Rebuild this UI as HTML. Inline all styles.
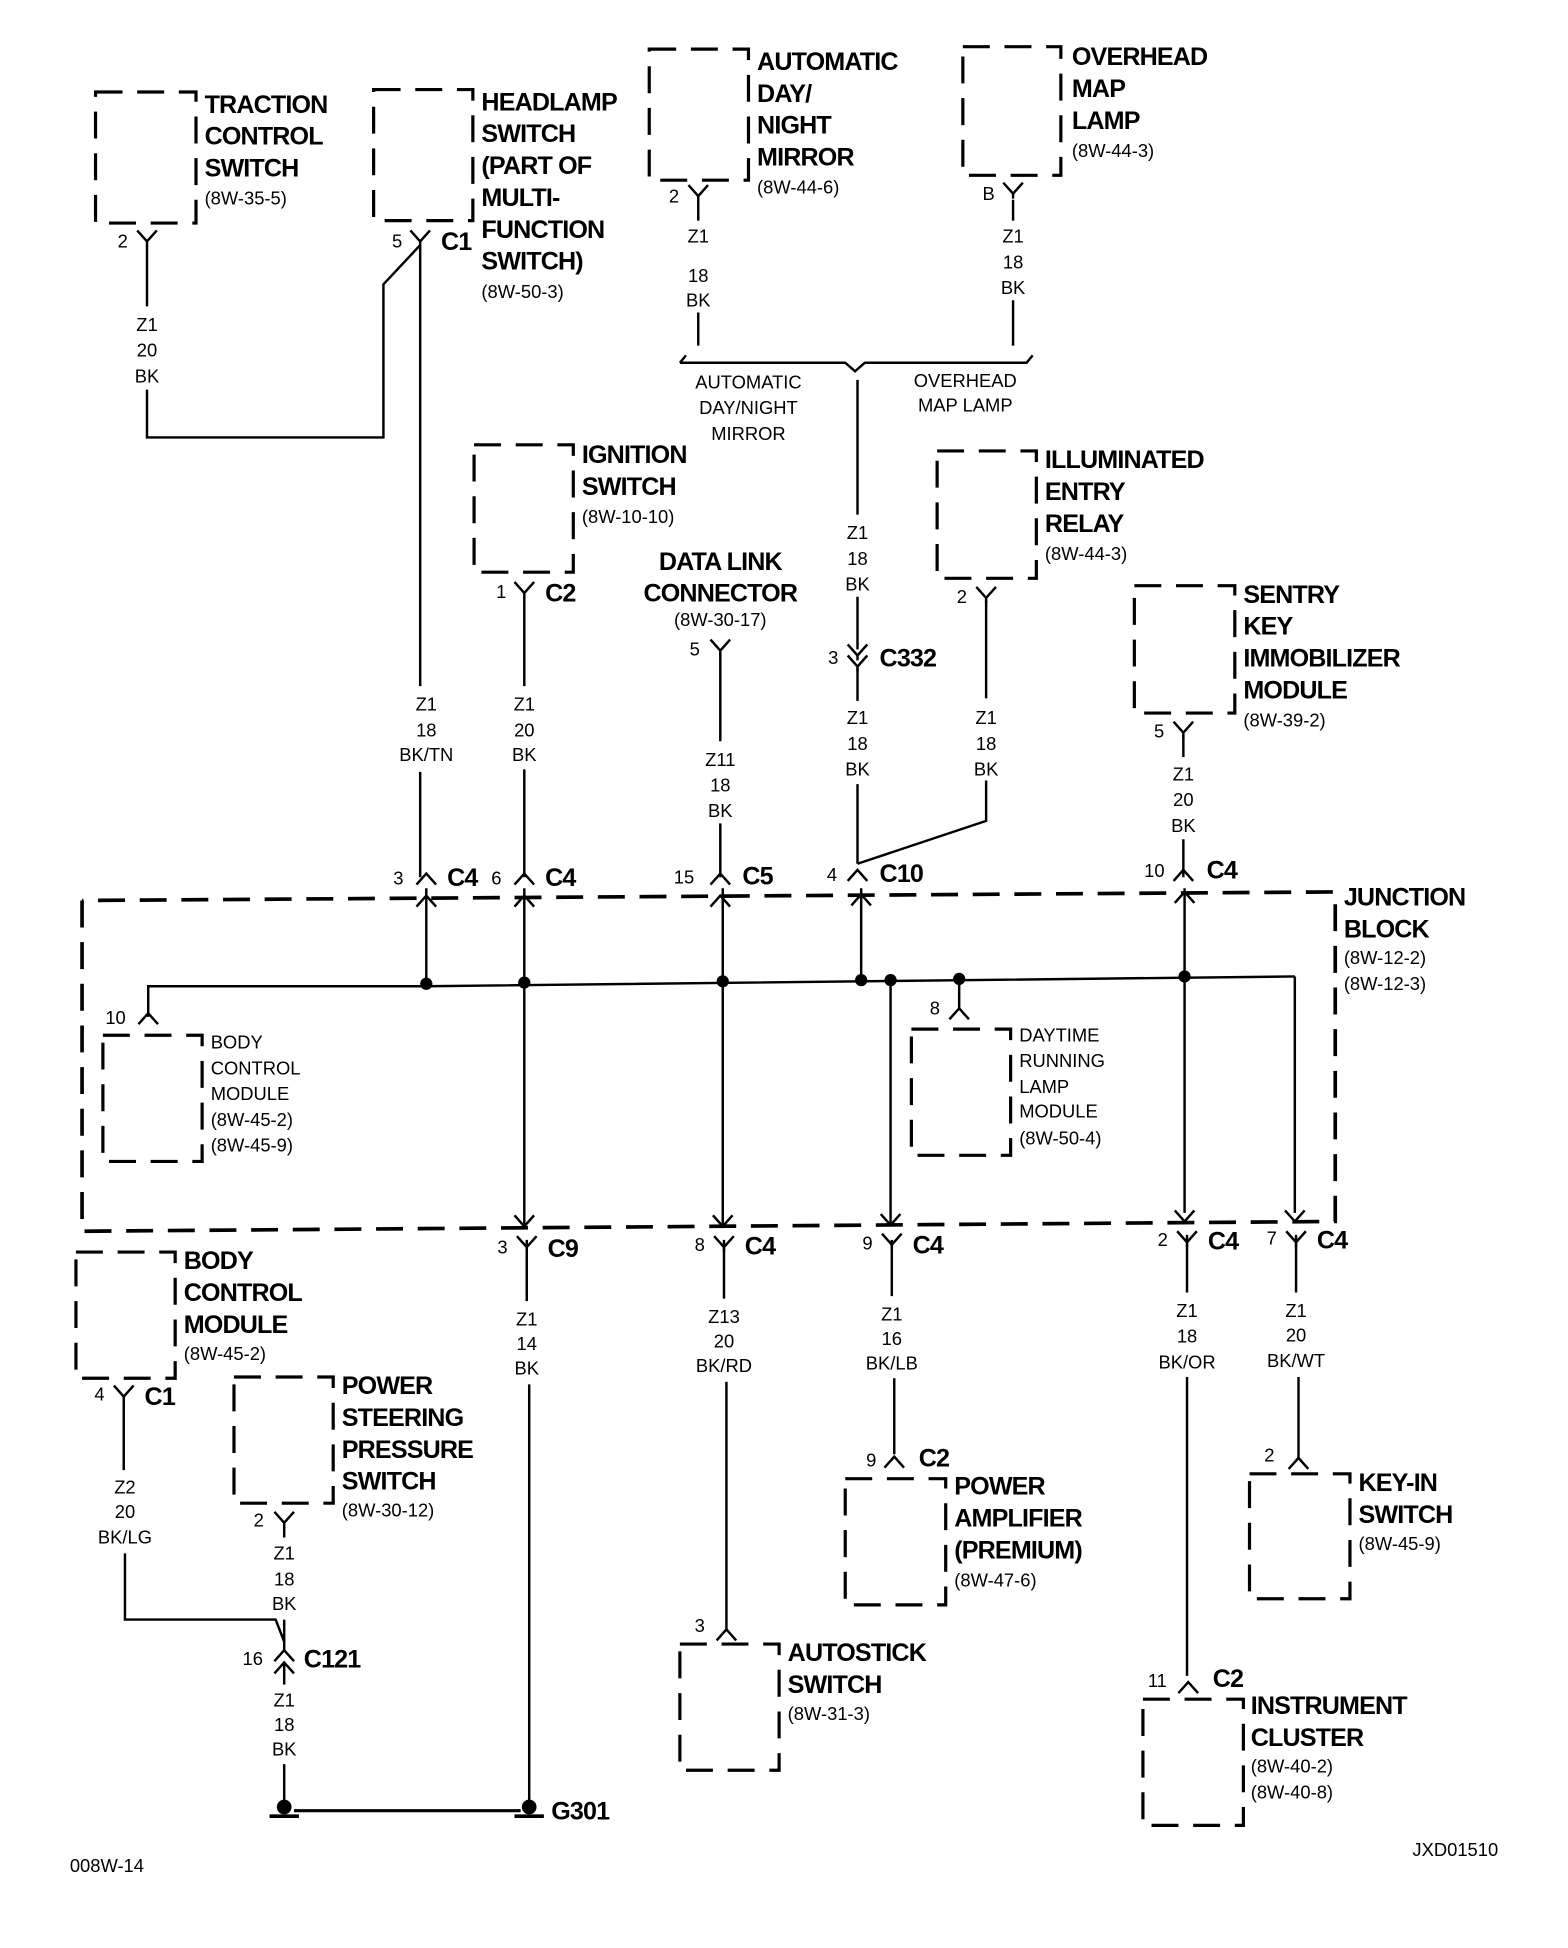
<!DOCTYPE html>
<html><head><meta charset="utf-8"><style>
html,body{margin:0;padding:0;background:#fff}
svg{display:block}
.b{font-family:"Liberation Sans Narrow","Liberation Sans",sans-serif;font-weight:bold;font-size:20.5px;letter-spacing:-0.7px;fill:#000}
.s{font-family:"Liberation Sans Narrow","Liberation Sans",sans-serif;font-size:15px;fill:#000}
.m{text-anchor:middle}
</style></head><body>
<svg width="1568" height="1948" viewBox="0 0 1280 1590" xmlns="http://www.w3.org/2000/svg">
<defs>
<g id="Y"><path d="M-8,-9 L0,0 L8,-9 M0,0 V4" fill="none" stroke="#000" stroke-width="2"/></g>
<g id="C"><path d="M-8,6 L0,-3 L8,6" fill="none" stroke="#000" stroke-width="2"/></g>
</defs>
<g fill="none" stroke="#000" stroke-width="2.6" stroke-dasharray="22,12">
<rect x="78" y="75" width="82" height="107"/>
<rect x="305" y="73" width="81" height="107"/>
<rect x="530" y="40" width="81" height="107"/>
<rect x="786" y="38" width="80" height="105"/>
<rect x="387" y="363" width="81" height="104"/>
<rect x="765" y="368" width="81" height="104"/>
<rect x="926" y="478" width="82" height="104"/>
<path d="M67,735 L67,1005 L1090,997 L1090,728 L67,735" stroke-width="3"/>
<rect x="84" y="845" width="81" height="103"/>
<rect x="744" y="840" width="81" height="103"/>
<rect x="62" y="1022" width="81" height="103"/>
<rect x="191" y="1124" width="81" height="103"/>
<rect x="555" y="1342" width="81" height="103"/>
<rect x="690" y="1207" width="82" height="103"/>
<rect x="933" y="1387" width="82" height="103"/>
<rect x="1020" y="1203" width="82" height="102"/>
</g>
<g fill="none" stroke="#000" stroke-width="2">
<path d="M120,200 V250 M120,318 V357 H313 V232 L343,200"/>
<path d="M343,200 V560 M343,630 V716"/>
<path d="M570,163 V180 M570,255 V282 M827,163 V180 M827,245 V282"/>
<path d="M555,296 L560,290 M555,296 H690 L698,303 L706,296 H838 L843,290" />
<path d="M700,310 V420 M700,487 V530 M700,545 V572 M700,640 V705"/>
<path d="M805,490 V570 M805,637 V670 L700,705"/>
<path d="M428,487 V560 M428,628 V716"/>
<path d="M588,533 V605 M588,672 V716"/>
<path d="M966,600 V618 M966,685 V716"/>
<path d="M348,725 V803 M428,725 V1000 M590,725 V1000 M703,725 V803 M727,803 V1000 M967,725 V990 M1057,797 V990"/>
<path d="M121,830 V805 H348 L1057,797"/>
<path d="M783,823 V801"/>
<path d="M430,1012 V1062 M432,1130 V1475 M591,1012 V1060 M593,1128 V1330 M728,1012 V1058 M730,1125 V1187 M969,1008 V1055 M969,1124 V1368 M1058,1008 V1055 M1060,1124 V1190"/>
<path d="M101,1140 V1200 M102,1268 V1322 H225 L232,1340"/>
<path d="M232,1245 V1255 M232,1322 V1347 M232,1358 V1375 M232,1440 V1470"/>
<path d="M240,1478 H425" stroke-width="2.5"/>
</g>
<use href="#Y" x="120" y="197"/><use href="#Y" x="343" y="197"/><use href="#Y" x="570" y="160"/><use href="#Y" x="827" y="158"/>
<use href="#Y" x="428" y="484"/><use href="#Y" x="805" y="488"/><use href="#Y" x="588" y="531"/><use href="#Y" x="966" y="598"/>
<use href="#Y" x="700" y="535"/><use href="#Y" x="700" y="544"/>
<use href="#C" x="348" y="716"/><use href="#C" x="428" y="716"/><use href="#C" x="588" y="716"/><use href="#C" x="700" y="713"/><use href="#C" x="966" y="713"/>
<use href="#C" x="348" y="734"/><use href="#C" x="428" y="734"/><use href="#C" x="588" y="734"/><use href="#C" x="703" y="733"/><use href="#C" x="967" y="731"/>
<use href="#C" x="121" y="830"/><use href="#C" x="783" y="826"/>
<g fill="none" stroke="#000" stroke-width="2"><path d="M420,992 L428,1001 L436,992 M582,992 L590,1001 L598,992 M719,991 L727,1000 L735,991 M959,988 L967,997 L975,988 M1049,988 L1057,997 L1065,988"/></g>
<use href="#Y" x="430" y="1018"/><use href="#Y" x="591" y="1018"/><use href="#Y" x="728" y="1016"/><use href="#Y" x="969" y="1014"/><use href="#Y" x="1058" y="1014"/>
<use href="#Y" x="101" y="1140"/><use href="#Y" x="232" y="1243"/>
<use href="#C" x="232" y="1350"/><use href="#C" x="232" y="1360"/>
<use href="#C" x="593" y="1333"/><use href="#C" x="730" y="1192"/><use href="#C" x="970" y="1376"/><use href="#C" x="1060" y="1193"/>
<g fill="#000"><circle cx="348" cy="803" r="5"/><circle cx="428" cy="802" r="5"/><circle cx="590" cy="801" r="5"/><circle cx="703" cy="800" r="5"/><circle cx="727" cy="800" r="5"/><circle cx="783" cy="799" r="5"/><circle cx="967" cy="797" r="5"/>
<circle cx="232" cy="1475" r="6"/><circle cx="432" cy="1475" r="6"/><rect x="220" y="1481" width="24" height="3"/><rect x="420" y="1481" width="24" height="3"/></g>
<g class="b">
<text x="167" y="92">TRACTION</text><text x="167" y="118">CONTROL</text><text x="167" y="144">SWITCH</text>
<text x="393" y="90">HEADLAMP</text><text x="393" y="116">SWITCH</text><text x="393" y="142">(PART OF</text><text x="393" y="168">MULTI-</text><text x="393" y="194">FUNCTION</text><text x="393" y="220">SWITCH)</text>
<text x="618" y="57">AUTOMATIC</text><text x="618" y="83">DAY/</text><text x="618" y="109">NIGHT</text><text x="618" y="135">MIRROR</text>
<text x="875" y="53">OVERHEAD</text><text x="875" y="79">MAP</text><text x="875" y="105">LAMP</text>
<text x="475" y="378">IGNITION</text><text x="475" y="404">SWITCH</text>
<text x="853" y="382">ILLUMINATED</text><text x="853" y="408">ENTRY</text><text x="853" y="434">RELAY</text>
<text x="588" y="465" class="b m">DATA LINK</text><text x="588" y="491" class="b m">CONNECTOR</text>
<text x="1015" y="492">SENTRY</text><text x="1015" y="518">KEY</text><text x="1015" y="544">IMMOBILIZER</text><text x="1015" y="570">MODULE</text>
<text x="1097" y="739">JUNCTION</text><text x="1097" y="765">BLOCK</text>
<text x="150" y="1036">BODY</text><text x="150" y="1062">CONTROL</text><text x="150" y="1088">MODULE</text>
<text x="279" y="1138">POWER</text><text x="279" y="1164">STEERING</text><text x="279" y="1190">PRESSURE</text><text x="279" y="1216">SWITCH</text>
<text x="643" y="1356">AUTOSTICK</text><text x="643" y="1382">SWITCH</text>
<text x="779" y="1220">POWER</text><text x="779" y="1246">AMPLIFIER</text><text x="779" y="1272">(PREMIUM)</text>
<text x="1021" y="1399">INSTRUMENT</text><text x="1021" y="1425">CLUSTER</text>
<text x="1109" y="1217">KEY-IN</text><text x="1109" y="1243">SWITCH</text>
<text x="360" y="204">C1</text><text x="445" y="491">C2</text><text x="718" y="544">C332</text>
<text x="365" y="723">C4</text><text x="445" y="723">C4</text><text x="606" y="722">C5</text><text x="718" y="720">C10</text><text x="985" y="717">C4</text>
<text x="447" y="1026">C9</text><text x="608" y="1024">C4</text><text x="745" y="1023">C4</text><text x="986" y="1020">C4</text><text x="1075" y="1019">C4</text>
<text x="118" y="1147">C1</text><text x="248" y="1361">C121</text><text x="750" y="1197">C2</text><text x="990" y="1377">C2</text>
<text x="450" y="1485">G301</text>
</g>
<g class="s">
<text x="167" y="167">(8W-35-5)</text><text x="393" y="243">(8W-50-3)</text><text x="618" y="158">(8W-44-6)</text><text x="875" y="128">(8W-44-3)</text>
<text x="475" y="427">(8W-10-10)</text><text x="853" y="457">(8W-44-3)</text><text x="588" y="511" class="s m">(8W-30-17)</text><text x="1015" y="593">(8W-39-2)</text>
<text x="1097" y="787">(8W-12-2)</text><text x="1097" y="808">(8W-12-3)</text>
<text x="150" y="1110">(8W-45-2)</text><text x="279" y="1238">(8W-30-12)</text><text x="643" y="1404">(8W-31-3)</text><text x="779" y="1295">(8W-47-6)</text>
<text x="1021" y="1447">(8W-40-2)</text><text x="1021" y="1468">(8W-40-8)</text><text x="1109" y="1265">(8W-45-9)</text>
<text x="172" y="856">BODY</text><text x="172" y="877">CONTROL</text><text x="172" y="898">MODULE</text><text x="172" y="919">(8W-45-2)</text><text x="172" y="940">(8W-45-9)</text>
<text x="832" y="850">DAYTIME</text><text x="832" y="871">RUNNING</text><text x="832" y="892">LAMP</text><text x="832" y="912">MODULE</text><text x="832" y="934">(8W-50-4)</text>
<g class="m">
<text x="611" y="317">AUTOMATIC</text><text x="611" y="338">DAY/NIGHT</text><text x="611" y="359">MIRROR</text>
<text x="788" y="316">OVERHEAD</text><text x="788" y="336">MAP LAMP</text>
<text x="120" y="270">Z1</text><text x="120" y="291">20</text><text x="120" y="312">BK</text>
<text x="570" y="198">Z1</text><text x="570" y="230">18</text><text x="570" y="250">BK</text>
<text x="827" y="198">Z1</text><text x="827" y="219">18</text><text x="827" y="240">BK</text>
<text x="700" y="440">Z1</text><text x="700" y="461">18</text><text x="700" y="482">BK</text>
<text x="700" y="591">Z1</text><text x="700" y="612">18</text><text x="700" y="633">BK</text>
<text x="805" y="591">Z1</text><text x="805" y="612">18</text><text x="805" y="633">BK</text>
<text x="348" y="580">Z1</text><text x="348" y="601">18</text><text x="348" y="621">BK/TN</text>
<text x="428" y="580">Z1</text><text x="428" y="601">20</text><text x="428" y="621">BK</text>
<text x="588" y="625">Z11</text><text x="588" y="646">18</text><text x="588" y="667">BK</text>
<text x="966" y="637">Z1</text><text x="966" y="658">20</text><text x="966" y="679">BK</text>
<text x="430" y="1082">Z1</text><text x="430" y="1102">14</text><text x="430" y="1122">BK</text>
<text x="591" y="1080">Z13</text><text x="591" y="1100">20</text><text x="591" y="1120">BK/RD</text>
<text x="728" y="1078">Z1</text><text x="728" y="1098">16</text><text x="728" y="1118">BK/LB</text>
<text x="969" y="1075">Z1</text><text x="969" y="1096">18</text><text x="969" y="1117">BK/OR</text>
<text x="1058" y="1075">Z1</text><text x="1058" y="1095">20</text><text x="1058" y="1116">BK/WT</text>
<text x="102" y="1219">Z2</text><text x="102" y="1239">20</text><text x="102" y="1260">BK/LG</text>
<text x="232" y="1273">Z1</text><text x="232" y="1294">18</text><text x="232" y="1314">BK</text>
<text x="232" y="1393">Z1</text><text x="232" y="1413">18</text><text x="232" y="1433">BK</text>
</g>
<text x="96" y="202">2</text><text x="320" y="202">5</text><text x="546" y="165">2</text><text x="802" y="163">B</text>
<text x="405" y="488">1</text><text x="781" y="492">2</text><text x="563" y="535">5</text><text x="942" y="602">5</text><text x="676" y="542">3</text>
<text x="321" y="722">3</text><text x="401" y="722">6</text><text x="550" y="721">15</text><text x="675" y="719">4</text><text x="934" y="716">10</text>
<text x="86" y="836">10</text><text x="759" y="828">8</text>
<text x="406" y="1023">3</text><text x="567" y="1021">8</text><text x="704" y="1020">9</text><text x="945" y="1017">2</text><text x="1034" y="1016">7</text>
<text x="77" y="1143">4</text><text x="207" y="1246">2</text><text x="198" y="1359">16</text>
<text x="567" y="1332">3</text><text x="707" y="1197">9</text><text x="937" y="1377">11</text><text x="1032" y="1193">2</text>
<text x="57" y="1528">008W-14</text><text x="1153" y="1515">JXD01510</text>
</g>
</svg>
</body></html>
